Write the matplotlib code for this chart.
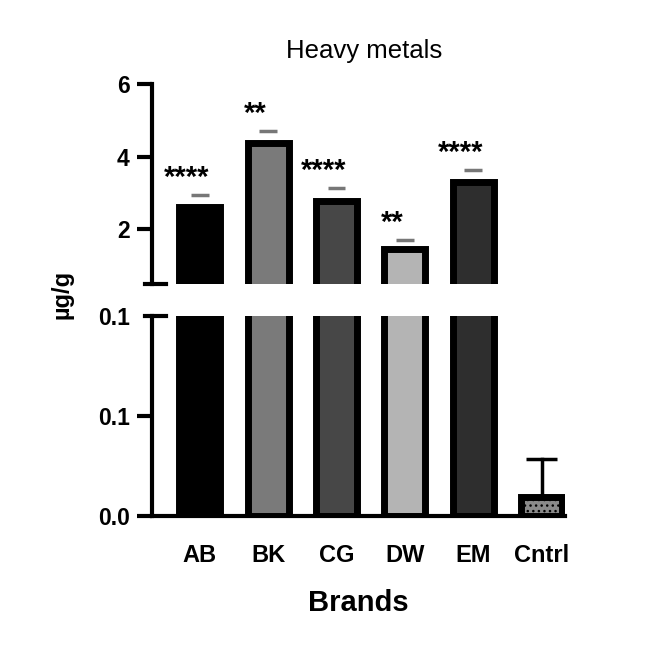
import matplotlib

matplotlib.use("Agg")

import matplotlib.pyplot as plt
import numpy as np

plt.rcParams["font.family"] = ["Liberation Sans", "DejaVu Sans"]
plt.rcParams["hatch.color"] = "#444444"

brands = ["AB", "BK", "CG", "DW", "EM", "Cntrl"]
means = [2.62, 4.39, 2.79, 1.46, 3.31, 0.0093]
errors = [0.32, 0.31, 0.34, 0.26, 0.32, 0.019]
stars = ["****", "**", "****", "**", "****", ""]
colors = ["#000000", "#7a7a7a", "#474747", "#b4b4b4", "#2e2e2e", "#8a8a8a"]

top_ticks = [2, 4, 6]
top_labels = ["2", "4", "6"]
bot_ticks = [0.0, 0.05, 0.1]
bot_labels = ["0.0", "0.1", "0.1"]

fig = plt.figure(figsize=(6.69, 6.55), dpi=100)
ax_top = fig.add_axes([0.2272, 0.5664, 0.617, 0.3053])
ax_bot = fig.add_axes([0.2272, 0.2122, 0.617, 0.3053])

x = np.arange(len(brands))
width = 0.6
for ax in (ax_top, ax_bot):
    bars = ax.bar(x, means, width=width, color=colors, edgecolor="black",
                  linewidth=5, zorder=2)
    bars[-1].set_hatch("...")
    ax.set_xlim(-0.70, 5.34)
    for s in ("top", "right"):
        ax.spines[s].set_visible(False)
    ax.spines["left"].set_linewidth(3)
    ax.tick_params(axis="y", length=11, width=3, labelsize=16.5, pad=5)

# caps above the broken top bars are grey, the stem hides behind the edge
for xi, m, e in zip(x, means, errors):
    ax_top.plot([xi - 0.13, xi + 0.13], [m + e, m + e], color="#777777",
                lw=2.5, zorder=3, solid_capstyle="butt")
    ax_bot.plot([xi, xi], [m, m + e], color="black", lw=2.5, zorder=1)
    ax_bot.plot([xi - 0.23, xi + 0.23], [m + e, m + e], color="black",
                lw=2.5, zorder=3, solid_capstyle="butt")

ax_top.set_ylim(0.5, 6)
ax_top.set_yticks(top_ticks)
ax_top.set_yticklabels(top_labels, fontweight="bold")
ax_top.spines["bottom"].set_visible(False)
ax_top.set_xticks([])
ax_top.plot([-0.8, -0.5], [0.5, 0.5], color="black", lw=3, clip_on=False)

ax_bot.set_ylim(0, 0.1)
ax_bot.set_yticks(bot_ticks)
ax_bot.set_yticklabels(bot_labels, fontweight="bold")
ax_bot.yaxis.get_major_ticks()[-1].tick1line.set_visible(False)
ax_bot.spines["bottom"].set_linewidth(3)
ax_bot.set_xticks(x)
ax_bot.set_xticklabels(brands, fontweight="bold", fontsize=17)
ax_bot.tick_params(axis="x", length=0, pad=20)
ax_bot.plot([-0.8, -0.5], [0.1, 0.1], color="black", lw=3, clip_on=False)

for xi, m, e, s in zip(x, means, errors, stars):
    if s:
        ax_top.text(xi - 0.19, m + e + 0.25, s, ha="center", va="baseline",
                    fontsize=21, fontweight="bold")

ax_top.set_title("Heavy metals", fontsize=18.5, pad=19, x=0.515)
ax_bot.set_xlabel("Brands", fontsize=21, fontweight="bold", labelpad=16)
fig.text(0.092, 0.55, "µg/g", rotation=90, ha="center", va="center",
         fontsize=17, fontweight="bold")

fig.savefig("out.png", dpi=100)
